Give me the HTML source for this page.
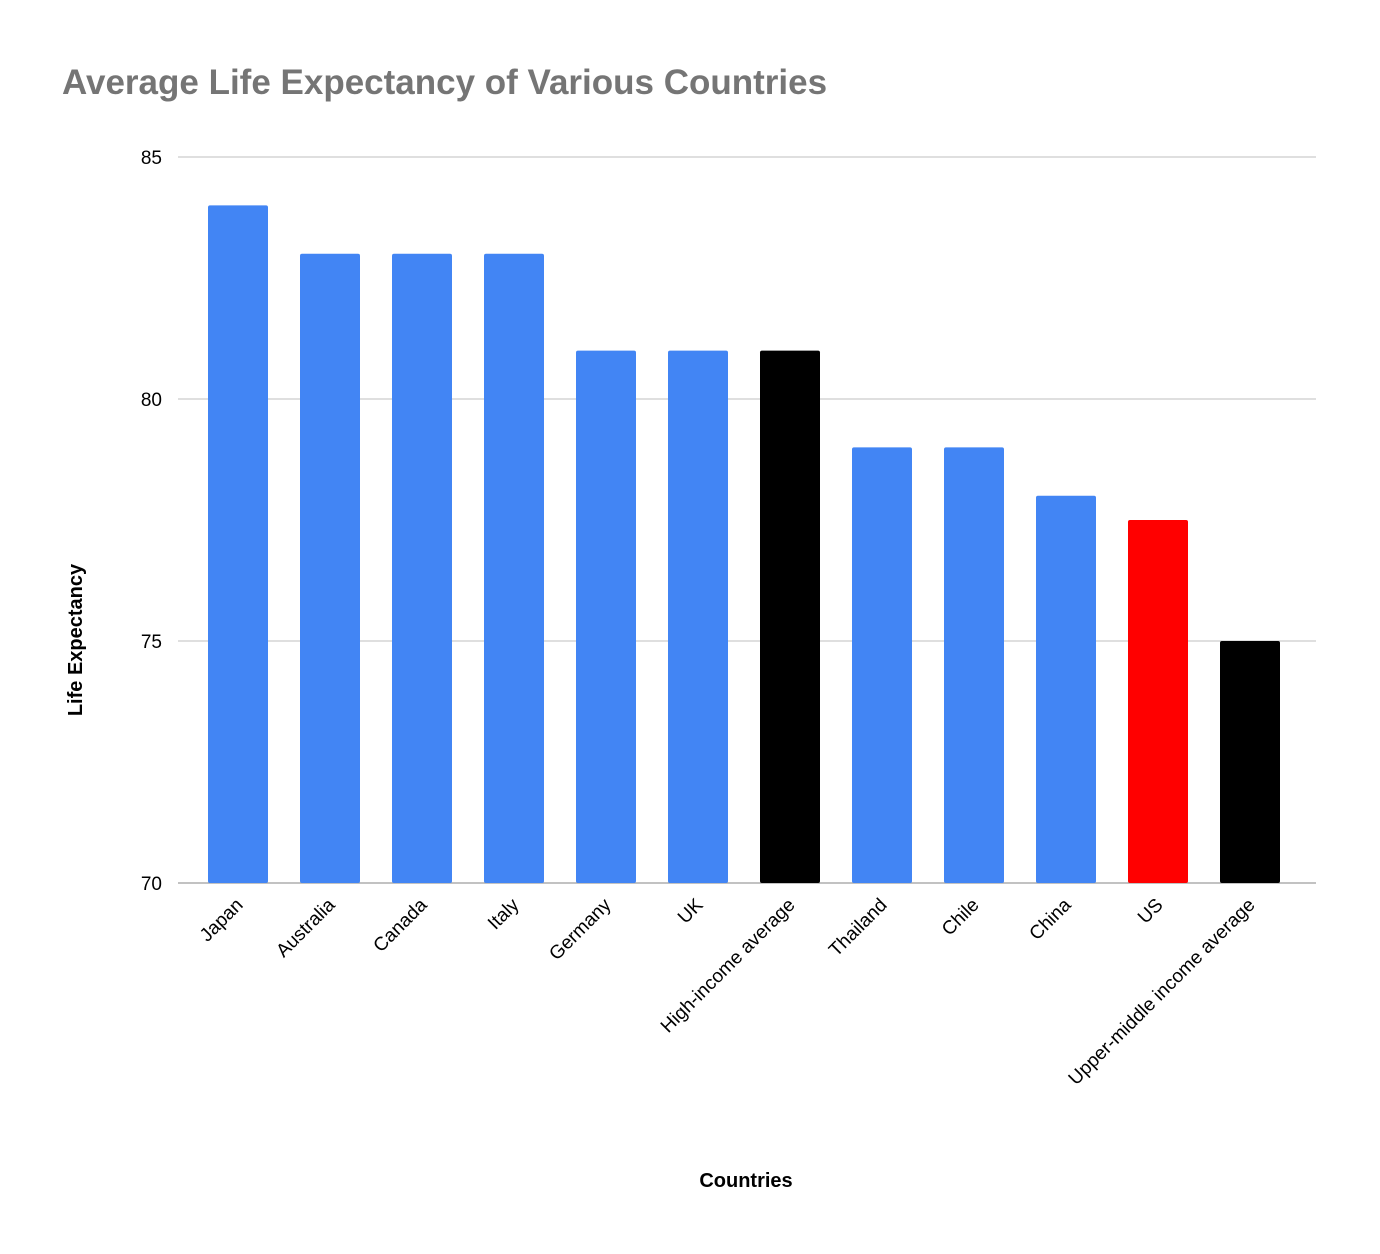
<!DOCTYPE html>
<html><head><meta charset="utf-8">
<style>
body{margin:0;background:#fff;}
svg{display:block;font-family:"Liberation Sans",Arial,sans-serif;}
</style></head>
<body>
<svg id="chart" width="1380" height="1254" viewBox="0 0 1380 1254">
<rect width="1380" height="1254" fill="#fff"/>
<text x="62" y="94" font-size="35" font-weight="bold" fill="#757575">Average Life Expectancy of Various Countries</text>
<g id="grid"></g>
<g id="bars"></g>
<g id="xlabels"></g>
<text x="82" y="640" font-size="20" font-weight="bold" fill="#000" text-anchor="middle" transform="rotate(-90 82 640)">Life Expectancy</text>
<text x="746" y="1187" font-size="20" font-weight="bold" fill="#000" text-anchor="middle">Countries</text>
</svg>
<script>
const categories=["Japan","Australia","Canada","Italy","Germany","UK","High-income average","Thailand","Chile","China","US","Upper-middle income average"];
const values=[84,83,83,83,81,81,81,79,79,78,77.5,75];
const colors=["#4285f4","#4285f4","#4285f4","#4285f4","#4285f4","#4285f4","#000000","#4285f4","#4285f4","#4285f4","#ff0000","#000000"];
const yTicks=[70,75,80,85];
const NS="http://www.w3.org/2000/svg";
const yMin=70,yMax=85,yTop=157,yBot=883;
function y(v){return yBot-(v-yMin)/(yMax-yMin)*(yBot-yTop);}
const x0=238,step=92,bw=60;
function xc(i){return x0+i*step;}
const grid=document.getElementById('grid');
yTicks.forEach(t=>{
  const l=document.createElementNS(NS,'line');
  l.setAttribute('x1',178);l.setAttribute('x2',1316);
  l.setAttribute('y1',y(t));l.setAttribute('y2',y(t));
  l.setAttribute('stroke',t===yMin?'#9e9e9e':'#cccccc');l.setAttribute('stroke-width',1.2);
  
  
  grid.appendChild(l);
  const tx=document.createElementNS(NS,'text');
  tx.setAttribute('x',162);tx.setAttribute('y',y(t)+7);
  tx.setAttribute('text-anchor','end');tx.setAttribute('font-size',19);
  tx.textContent=t;
  
  
  grid.appendChild(tx);
});
const bars=document.getElementById('bars'),xl=document.getElementById('xlabels');
categories.forEach((c,i)=>{
  const r=document.createElementNS(NS,'rect');
  const top=y(values[i]);
  r.setAttribute('x',xc(i)-bw/2);r.setAttribute('y',top);
  r.setAttribute('width',bw);r.setAttribute('height',yBot-top);
  r.setAttribute('rx',2);
  r.setAttribute('fill',colors[i]);
  
  
  bars.appendChild(r);
  const t=document.createElementNS(NS,'text');
  const lx=xc(i)+6,ly=906;
  t.setAttribute('x',lx);t.setAttribute('y',ly);
  t.setAttribute('text-anchor','end');t.setAttribute('font-size',19);
  t.setAttribute('transform','rotate(-45 '+lx+' '+ly+')');
  t.textContent=c;
  
  
  xl.appendChild(t);
});
</script>
</body></html>
